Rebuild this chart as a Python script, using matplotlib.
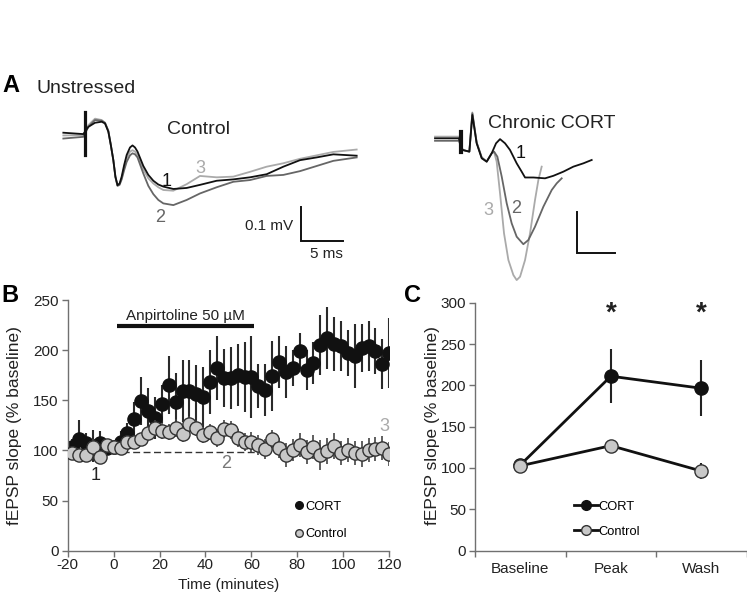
import matplotlib
matplotlib.use('Agg')
import matplotlib.pyplot as plt
from matplotlib.lines import Line2D

plt.rcParams['font.family'] = ['Liberation Sans', 'DejaVu Sans']
plt.rcParams['axes.unicode_minus'] = False

# ---------------- Panel B data (time course) ----------------
time_min = list(range(-18, 121, 3))
cort_b = [103, 111, 107, 104, 107, 102, 103, 108, 117, 131,
          149, 139, 132, 146, 165, 148, 159, 159, 156, 153,
          168, 182, 172, 172, 175, 173, 173, 164, 160, 174,
          188, 178, 182, 199, 180, 187, 205, 212, 206, 204,
          197, 194, 202, 204, 199, 186, 197]
cort_b_err = [8, 19, 10, 16, 12, 6, 6, 11, 10, 17,
              24, 23, 21, 19, 29, 29, 31, 31, 29, 30,
              32, 32, 29, 31, 31, 35, 41, 22, 26, 35,
              26, 26, 18, 18, 20, 21, 30, 31, 27, 25,
              23, 32, 24, 25, 23, 25, 35]
ctrl_b = [97, 95, 95, 103, 93, 105, 103, 102, 108, 108,
          111, 117, 122, 119, 118, 122, 116, 126, 122, 115,
          118, 112, 121, 120, 112, 108, 108, 105, 101, 111,
          102, 95, 100, 105, 98, 103, 95, 99, 104, 97,
          100, 97, 96, 100, 101, 102, 96]
ctrl_b_err = [5, 4, 4, 8, 5, 4, 4, 4, 5, 6,
              6, 7, 8, 8, 8, 9, 8, 8, 8, 8,
              8, 9, 9, 9, 9, 9, 10, 10, 10, 9,
              10, 12, 11, 12, 12, 12, 15, 13, 13, 12,
              12, 12, 13, 12, 12, 12, 12]
drug_start, drug_end, drug_level = 1.3, 61.1, 224
baseline_level, baseline_from, baseline_to = 98, -10, 62

# ---------------- Panel C data (summary) ----------------
categories = ['Baseline', 'Peak', 'Wash']
cort_c = [103.5, 211, 196.4]
cort_c_err = [3, 32.6, 34]
ctrl_c = [102.5, 126.9, 96.2]
ctrl_c_err = [3, 6, 10]

# ---------------- Panel A traces (ms, mV) ----------------
ctl_t = [1.0, 3.4, 4.0, 4.8, 5.6, 6.0, 6.4, 6.7, 7.0, 7.25, 7.5, 7.75, 8.0, 8.3,
         8.6, 9.0, 9.3, 9.6, 9.9, 10.6, 11.2, 11.8, 12.4, 13.0, 14.2, 15.8, 17.4,
         19.4, 21.4, 23.4, 25.4, 27.4, 29.4, 31.4, 33.4, 36.2]
ctl_v1 = [0, -0.004, 0.017, 0.029, 0.032, 0.027, 0.003, -0.036, -0.080, -0.128,
          -0.153, -0.148, -0.128, -0.094, -0.065, -0.043, -0.037, -0.043, -0.055,
          -0.097, -0.123, -0.140, -0.151, -0.157, -0.164, -0.161, -0.152, -0.140,
          -0.136, -0.130, -0.121, -0.099, -0.080, -0.072, -0.063, -0.067]
ctl_v2 = [-0.017, -0.012, 0.017, 0.037, 0.035, 0.029, 0.006, -0.036, -0.080, -0.130,
          -0.155, -0.152, -0.136, -0.109, -0.085, -0.066, -0.060, -0.063, -0.072,
          -0.119, -0.155, -0.179, -0.196, -0.206, -0.211, -0.196, -0.177, -0.159,
          -0.143, -0.138, -0.126, -0.123, -0.112, -0.097, -0.082, -0.072]
ctl_v3 = [-0.008, -0.007, 0.022, 0.041, 0.037, 0.029, 0.004, -0.036, -0.080, -0.128,
          -0.153, -0.150, -0.133, -0.101, -0.075, -0.055, -0.051, -0.055, -0.065,
          -0.107, -0.133, -0.148, -0.159, -0.167, -0.169, -0.150, -0.126, -0.130,
          -0.128, -0.114, -0.099, -0.089, -0.076, -0.066, -0.056, -0.049]
ctl_artifact_t = [3.6, 3.6]
ctl_artifact_v = [0.061, -0.065]

crt_t1 = [0, 2.83, 3.1, 3.6, 4.48, 4.87, 5.43, 6.09, 6.74, 7.39, 7.96, 8.48, 9.13,
          9.78, 10.65, 11.30, 11.74, 12.83, 14.35, 15.43, 16.74, 18.04, 19.35, 20.43]
crt_v1 = [0, 0, 0, -0.028, -0.032, 0.056, -0.012, -0.048, -0.056, -0.036, -0.012,
          -0.002, -0.012, -0.028, -0.060, -0.080, -0.094, -0.094, -0.096, -0.090,
          -0.080, -0.068, -0.060, -0.052]
crt_t2 = [0, 2.83, 3.1, 3.6, 4.48, 4.87, 5.43, 6.09, 6.74, 7.39, 7.70, 8.13, 8.70,
          9.35, 10.0, 10.65, 11.52, 12.17, 13.04, 14.13, 15.22, 15.87, 16.52]
crt_v2 = [-0.006, -0.006, -0.006, -0.028, -0.032, 0.060, -0.010, -0.046, -0.056,
          -0.036, -0.032, -0.044, -0.092, -0.156, -0.204, -0.236, -0.254, -0.244,
          -0.212, -0.164, -0.124, -0.108, -0.096]
crt_t3 = [0, 2.83, 3.1, 3.6, 4.48, 4.87, 5.43, 6.09, 6.74, 7.39, 7.70, 8.04, 8.48,
          9.0, 9.57, 10.22, 10.65, 11.09, 11.74, 12.39, 13.04, 13.48, 13.91]
crt_v3 = [0.004, 0.004, 0.004, -0.028, -0.032, 0.062, -0.010, -0.046, -0.056,
          -0.036, -0.032, -0.056, -0.132, -0.228, -0.292, -0.328, -0.340, -0.332,
          -0.292, -0.228, -0.148, -0.100, -0.068]
crt_artifact_t = [3.35, 3.35]
crt_artifact_v = [0.016, -0.032]

scale_ms, scale_mv = 5, 0.1

C_BLACK = '#111111'
C_MID = '#666666'
C_LIGHT = '#aaaaaa'
C_FILL = '#c8c8c8'
C_SPINE = '#707070'

W, H = 747, 595
fig = plt.figure(figsize=(W / 100, H / 100), dpi=100)
fig.patch.set_facecolor('white')


def fx(px):
    return px / W


def fy(py):
    return 1 - py / H


def ax_rect(l, t, r, b):
    return [fx(l), fy(b), (r - l) / W, (b - t) / H]


# ---------------- Panel A ----------------
ax_a1 = fig.add_axes(ax_rect(55, 90, 365, 260))
ax_a1.set_xlim(0, 37.2)
ax_a1.set_ylim(-0.371, 0.1245)
ax_a1.axis('off')
ax_a1.plot(ctl_t, ctl_v3, color=C_LIGHT, lw=1.3)
ax_a1.plot(ctl_t, ctl_v2, color=C_MID, lw=1.3)
ax_a1.plot(ctl_t, ctl_v1, color=C_BLACK, lw=1.3)
ax_a1.plot(ctl_artifact_t, ctl_artifact_v, color=C_BLACK, lw=2.3)
sx, sy = 29.52, -0.3157
ax_a1.plot([sx, sx, sx + scale_ms], [sy + scale_mv, sy, sy], color=C_BLACK, lw=1.4,
           solid_joinstyle='miter')
ax_a1.text(13.4, -0.156, '1', color=C_BLACK, fontsize=13, ha='center', va='baseline')
ax_a1.text(12.6, -0.259, '2', color=C_MID, fontsize=13, ha='center', va='baseline')
ax_a1.text(17.4, -0.118, '3', color=C_LIGHT, fontsize=13, ha='center', va='baseline')
ax_a1.text(sx - 0.9, -0.283, '0.1 mV', fontsize=11, ha='right', va='baseline', color='#222')
ax_a1.text(sx + scale_ms / 2 + 0.5, -0.366, '5 ms', fontsize=11, ha='center', va='baseline',
           color='#222')

ax_a2 = fig.add_axes(ax_rect(425, 90, 640, 290))
ax_a2.set_xlim(-1.304, 26.73)
ax_a2.set_ylim(-0.3638, 0.1158)
ax_a2.axis('off')
ax_a2.plot(crt_t3, crt_v3, color=C_LIGHT, lw=1.3)
ax_a2.plot(crt_t2, crt_v2, color=C_MID, lw=1.3)
ax_a2.plot(crt_t1, crt_v1, color=C_BLACK, lw=1.3)
ax_a2.plot(crt_artifact_t, crt_artifact_v, color=C_BLACK, lw=3)
cx, cy = 18.47, -0.276
ax_a2.plot([cx, cx, cx + scale_ms], [cy + scale_mv, cy, cy], color=C_BLACK, lw=1.4,
           solid_joinstyle='miter')
ax_a2.text(11.1, -0.048, '1', color=C_BLACK, fontsize=13, ha='center', va='baseline')
ax_a2.text(10.56, -0.180, '2', color=C_MID, fontsize=13, ha='center', va='baseline')
ax_a2.text(6.95, -0.184, '3', color=C_LIGHT, fontsize=13, ha='center', va='baseline')

fig.text(fx(2), fy(91.7), 'A', fontsize=17, fontweight='bold', va='baseline', ha='left')
fig.text(fx(36), fy(93), 'Unstressed', fontsize=14, va='baseline', ha='left', color='#222')
fig.text(fx(167), fy(134), 'Control', fontsize=14, va='baseline', ha='left', color='#222')
fig.text(fx(488), fy(128.3), 'Chronic CORT', fontsize=14, va='baseline', ha='left', color='#222')
fig.text(fx(1), fy(301.7), 'B', fontsize=17, fontweight='bold', va='baseline', ha='left')
fig.text(fx(404), fy(301.7), 'C', fontsize=17, fontweight='bold', va='baseline', ha='left')


def style_axes(ax):
    for s in ('top', 'right'):
        ax.spines[s].set_visible(False)
    for s in ('left', 'bottom'):
        ax.spines[s].set_color(C_SPINE)
        ax.spines[s].set_linewidth(1.0)
    ax.tick_params(direction='out', length=4, width=1, color=C_SPINE,
                   labelcolor='#222', labelsize=11)
    ax.tick_params(axis='y', pad=2.5)


# ---------------- Panel B ----------------
ax_b = fig.add_axes(ax_rect(67.7, 300, 389.2, 550.7))
style_axes(ax_b)
ax_b.tick_params(axis='x', pad=1.5)
ax_b.set_xlim(-20, 120)
ax_b.set_ylim(0, 250)
ax_b.set_xticks(range(-20, 121, 20))
ax_b.set_yticks(range(0, 251, 50))
ax_b.plot([baseline_from, baseline_to], [baseline_level, baseline_level], color='#333',
          lw=1.0, ls=(0, (5, 2.5)), zorder=1)
ax_b.errorbar(time_min, cort_b, yerr=cort_b_err, fmt='o', ms=9.5, mfc=C_BLACK, mec=C_BLACK,
              ecolor='#2a2a2a', elinewidth=1.5, capsize=0, zorder=2)
ax_b.errorbar(time_min, ctrl_b, yerr=ctrl_b_err, fmt='o', ms=9.5, mfc=C_FILL, mec='#333',
              mew=1.0, ecolor='#444', elinewidth=1.2, capsize=0, zorder=3)
ax_b.plot([drug_start, drug_end], [drug_level, drug_level], color=C_BLACK, lw=3,
          solid_capstyle='butt')
ax_b.text((drug_start + drug_end) / 2, 230, 'Anpirtoline 50 µM', ha='center', va='baseline',
          fontsize=11, color='#222')
ax_b.text(-7.8, 70.7, '1', color='#222', fontsize=13, ha='center', va='baseline')
ax_b.text(49.2, 82.4, '2', color='#777', fontsize=13, ha='center', va='baseline')
ax_b.text(117.8, 119, '3', color=C_LIGHT, fontsize=13, ha='center', va='baseline',
          clip_on=False)
ax_b.set_xlabel('Time (minutes)', fontsize=11, color='#222', labelpad=4)
ax_b.set_ylabel('fEPSP slope (% baseline)', fontsize=12.5, color='#222')
ax_b.yaxis.set_label_coords(-0.142, 0.5)
hb = [Line2D([], [], ls='none', marker='o', ms=5.5, mfc=C_BLACK, mec=C_BLACK),
      Line2D([], [], ls='none', marker='o', ms=5.5, mfc=C_FILL, mec='#333')]
ax_b.legend(hb, ['CORT', 'Control'], loc='upper left', bbox_to_anchor=(0.704, 0.200),
            frameon=False, fontsize=9.3, handlelength=0.8, handletextpad=0.05,
            labelspacing=1.2, borderpad=0, borderaxespad=0)

# ---------------- Panel C ----------------
ax_c = fig.add_axes(ax_rect(475, 302.7, 746.7, 550.5))
style_axes(ax_c)
xc = [0.5, 1.5, 2.5]
ax_c.set_xlim(0, 3)
ax_c.set_ylim(0, 300)
ax_c.set_yticks(range(0, 301, 50))
ax_c.set_xticks([0, 1, 2, 3])
ax_c.set_xticklabels([])
ax_c.set_xticks(xc, minor=True)
ax_c.set_xticklabels(categories, minor=True)
ax_c.tick_params(axis='x', which='minor', length=0, pad=8, labelsize=11, labelcolor='#222')
ax_c.errorbar(xc, cort_c, yerr=cort_c_err, fmt='-o', color=C_BLACK, lw=2, ms=9.5,
              mfc=C_BLACK, mec=C_BLACK, ecolor='#222', elinewidth=1.5, capsize=0, zorder=2)
ax_c.errorbar(xc, ctrl_c, yerr=ctrl_c_err, fmt='-o', color=C_BLACK, lw=2, ms=9.5,
              mfc=C_FILL, mec='#333', mew=1.0, ecolor='#222', elinewidth=1.5, capsize=0,
              zorder=3)
for i in (1, 2):
    ax_c.text(xc[i], 278, '*', ha='center', va='baseline', fontsize=20, fontweight='bold',
              color='#222')
ax_c.set_ylabel('fEPSP slope (% baseline)', fontsize=12.5, color='#222')
ax_c.yaxis.set_label_coords(-0.129, 0.506)
hc = [Line2D([], [], color=C_BLACK, lw=2, marker='o', ms=7, mfc=C_BLACK, mec=C_BLACK),
      Line2D([], [], color=C_BLACK, lw=2, marker='o', ms=7, mfc=C_FILL, mec='#333')]
ax_c.legend(hc, ['CORT', 'Control'], loc='upper left', bbox_to_anchor=(0.364, 0.2015),
            frameon=False, fontsize=9.3, handlelength=1.86, handletextpad=0.0,
            labelspacing=1.02, borderpad=0, borderaxespad=0)

fig.savefig('out.png', dpi=100, facecolor='white')
